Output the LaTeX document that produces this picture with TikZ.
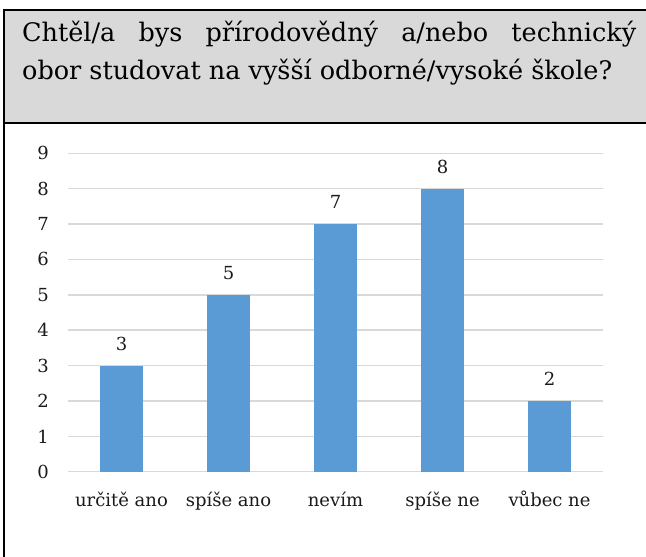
\documentclass[tikz,border=0pt]{standalone}
\usepackage{fontspec}
\setmainfont{DejaVu Serif}
\definecolor{barblue}{HTML}{5B9BD5}
\definecolor{gridgray}{HTML}{D9D9D9}
\definecolor{headgray}{HTML}{D9D9D9}
\definecolor{inktext}{HTML}{1A1A1A}
\begin{document}
\begin{tikzpicture}[x=1pt,y=-1pt,
  frameline/.style={line width=2pt,black},
  gridline/.style={gridgray,line width=1.5pt},
  bar/.style={fill=barblue,draw=none},
  ticklabel/.style={font=\fontsize{18}{21}\selectfont,text=inktext,inner sep=0pt},
  valuelabel/.style={font=\fontsize{18}{21}\selectfont,text=inktext,inner sep=0pt},
  catlabel/.style={font=\fontsize{18}{21}\selectfont,text=inktext,inner sep=0pt,anchor=base},
  titletext/.style={font=\fontsize{25.5}{32}\selectfont,text=black,inner sep=0pt,anchor=base west}]
\useasboundingbox (0,0) rectangle (646,557);

% question header of the table
\fill[headgray] (4,10) rectangle (650,123);
\draw[frameline] (650,10) -- (4,10) -- (4,560);
\draw[frameline] (4,123) -- (650,123);
\node[titletext] (title1) at (22,41)
  {\makebox[614pt][s]{Chtěl/a bys přírodovědný a/nebo technický}};
\node[titletext] (title2) at (22,79)
  {obor studovat na vyšší odborné/vysoké škole?};

% value axis: one unit = 35.38 px, zero at y = 471.7
\foreach \v in {0,...,9}{
  \draw[gridline] (68,{471.7-35.38*\v}) -- (603,{471.7-35.38*\v});
  \node[ticklabel] (tick\v) at (43,{471.7-35.38*\v}) {\v};
}

% bars, their values and category names
\foreach \i/\val/\cat in {0/3/určitě ano,1/5/spíše ano,2/7/nevím,3/8/spíše ne,4/2/vůbec ne}{
  \pgfmathsetmacro{\cx}{121.5+107*\i}
  \pgfmathsetmacro{\top}{471.7-35.38*\val}
  \fill[bar] ({\cx-21.5},471.7) rectangle ({\cx+21.5},\top);
  \node[valuelabel] (val\i) at (\cx,{\top-22}) {\val};
  \node[catlabel] (cat\i) at (\cx,506) {\cat};
}
\end{tikzpicture}
\end{document}
